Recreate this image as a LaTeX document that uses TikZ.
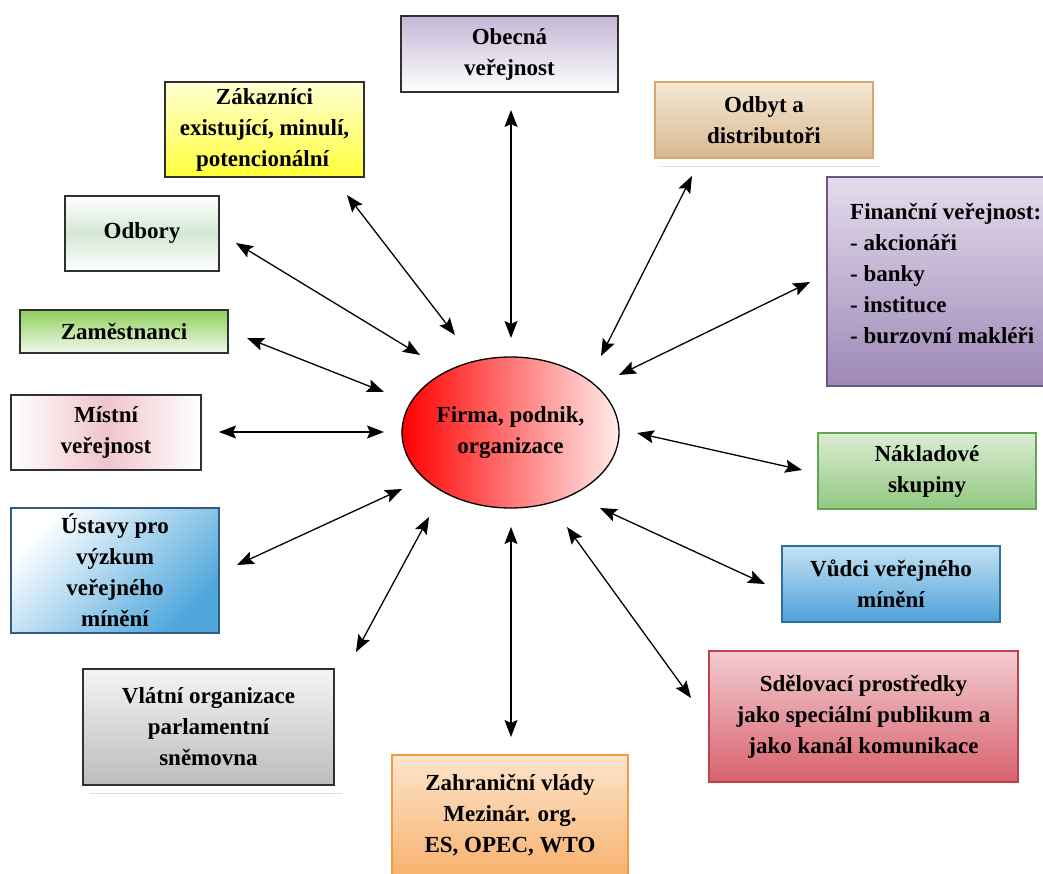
\documentclass[tikz,border=0pt]{standalone}
\usepackage{fontspec}
\setmainfont{Liberation Serif}
\usetikzlibrary{shapes.geometric,arrows.meta}

\definecolor{frame}{HTML}{303030}
\definecolor{firmR}{HTML}{FFECEC}
\definecolor{obecT}{HTML}{C4B6D6}
\definecolor{zakT}{HTML}{FFFFD2}
\definecolor{zakB}{HTML}{FFFF3C}
\definecolor{odbytD}{HTML}{D6A870}
\definecolor{odbytT}{HTML}{F6E8D6}
\definecolor{odbytB}{HTML}{D8B88E}
\definecolor{finD}{HTML}{685880}
\definecolor{finT}{HTML}{E4DCEC}
\definecolor{finB}{HTML}{9E88B8}
\definecolor{odboryM}{HTML}{D4E8D4}
\definecolor{zamT}{HTML}{8FCF5A}
\definecolor{zamB}{HTML}{F2F9EE}
\definecolor{mistM}{HTML}{F0C4CC}
\definecolor{ustavyD}{HTML}{325A82}
\definecolor{ustavyB}{HTML}{4EA6DC}
\definecolor{vlatT}{HTML}{F4F4F4}
\definecolor{vlatB}{HTML}{BCBCBC}
\definecolor{zahrD}{HTML}{F29A3C}
\definecolor{zahrT}{HTML}{FDE4CC}
\definecolor{zahrB}{HTML}{F7B26E}
\definecolor{sdelD}{HTML}{C0404C}
\definecolor{sdelT}{HTML}{F2CCD0}
\definecolor{sdelB}{HTML}{D8626E}
\definecolor{vudciD}{HTML}{2E6F9E}
\definecolor{vudciT}{HTML}{C4E2F4}
\definecolor{vudciB}{HTML}{4EA0D8}
\definecolor{naklD}{HTML}{62A552}
\definecolor{naklT}{HTML}{DCECD4}
\definecolor{naklB}{HTML}{92C880}
\definecolor{ruleC}{HTML}{DEDEDE}

\tikzset{
  box/.style={draw=#1, line width=1.2pt, inner sep=0pt, align=center,
    font=\bfseries\fontsize{23}{31}\selectfont},
  box/.default=frame,
  txt/.style={inner sep=0pt, align=left, font=\bfseries\fontsize{23}{31}\selectfont},
  link/.style={line width=1.3pt, >={Stealth[length=17pt,width=13pt,inset=3pt]}, <->},
  rule/.style={draw=ruleC, line width=0.8pt}
}

\begin{document}
\begin{tikzpicture}[x=1pt,y=-1pt]
\useasboundingbox (0,0) rectangle (1043,874);

% centre
\node[ellipse, draw=black, line width=1.3pt, inner sep=0pt,
      minimum width=217pt, minimum height=151pt,
      left color=red, right color=firmR, align=center,
      font=\bfseries\fontsize{23}{31}\selectfont]
  (firm) at (510.5,432.5) {Firma, podnik,\\organizace};

% publics around the firm
\node[box, minimum width=217pt, minimum height=76pt,
      top color=obecT, bottom color=white]
  (obec) at (509.5,54) {Obecná\\veřejnost};

\node[box, minimum width=199pt, minimum height=95pt,
      top color=zakT, bottom color=zakB]
  (zak) at (264.5,129.5) {Zákazníci\\existující, minulí,\\potencionální\hspace*{4pt}};

\node[box=odbytD, minimum width=218pt, minimum height=76pt,
      top color=odbytT, bottom color=odbytB]
  (odbyt) at (764,120) {Odbyt a\\distributoři};
\path[rule] (661,166) -- (880,166);

\node[box=finD, minimum width=217pt, minimum height=209pt,
      top color=finT, bottom color=finB]
  (fin) at (935.5,281.5) {};
\node[txt, anchor=north west] (fintxt) at (850,203)
  {Finanční veřejnost:\\- akcionáři\\- banky\\- instituce\\- burzovní makléři};

\node[box, minimum width=154pt, minimum height=75pt,
      top color=white, bottom color=white, middle color=odboryM]
  (odbory) at (142,233.5) {Odbory};

\node[box, minimum width=208pt, minimum height=43pt,
      top color=zamT, bottom color=zamB]
  (zam) at (124,331.5) {Zaměstnanci};

\node[box, minimum width=190pt, minimum height=75pt,
      left color=white, right color=white, middle color=mistM]
  (mist) at (106,432.5) {Místní\\veřejnost};

\node[box=ustavyD, minimum width=208pt, minimum height=125pt,
      top color=white, bottom color=ustavyB, shading angle=45]
  (ustavy) at (115,570.5) {Ústavy pro\\výzkum\\veřejného\\mínění};

\node[box, minimum width=251pt, minimum height=116pt,
      top color=vlatT, bottom color=vlatB]
  (vlat) at (208.5,727) {Vlátní organizace\\parlamentní\\sněmovna};
\path[rule] (90,793) -- (342,793);

\node[box=zahrD, minimum width=236pt, minimum height=121pt,
      top color=zahrT, bottom color=zahrB]
  (zahr) at (510,815.5) {Zahraniční vlády\\Mezinár. org.\\ES, OPEC, WTO};

\node[box=sdelD, minimum width=309pt, minimum height=131pt,
      top color=sdelT, bottom color=sdelB]
  (sdel) at (863.5,716.5) {Sdělovací prostředky\\jako speciální publikum a\\jako kanál komunikace};

\node[box=vudciD, minimum width=218pt, minimum height=76pt,
      top color=vudciT, bottom color=vudciB]
  (vudci) at (891,584) {Vůdci veřejného\\mínění};

\node[box=naklD, minimum width=218pt, minimum height=76pt,
      top color=naklT, bottom color=naklB]
  (nakl) at (927,471) {Nákladové\\skupiny};

% arrow tips
\coordinate (obec-a) at (511,110);  \coordinate (obec-b) at (511,338);
\coordinate (zak-a) at (347,195);   \coordinate (zak-b) at (455,335);
\coordinate (odbory-a) at (236,243);\coordinate (odbory-b) at (420,355);
\coordinate (zam-a) at (247,338);   \coordinate (zam-b) at (384,392);
\coordinate (mist-a) at (219,432);  \coordinate (mist-b) at (384,432);
\coordinate (ustavy-a) at (237,565);\coordinate (ustavy-b) at (402,489);
\coordinate (vlat-a) at (356,652);  \coordinate (vlat-b) at (429,517);
\coordinate (zahr-a) at (511,737);  \coordinate (zahr-b) at (511,527);
\coordinate (sdel-a) at (691,698);  \coordinate (sdel-b) at (567,527);
\coordinate (vudci-a) at (765,584); \coordinate (vudci-b) at (600,508);
\coordinate (nakl-a) at (802,470);  \coordinate (nakl-b) at (637,433);
\coordinate (fin-a) at (810,282);   \coordinate (fin-b) at (619,375);
\coordinate (odbyt-a) at (692,176); \coordinate (odbyt-b) at (601,356);

% connectors
\foreach \n in {obec,zak,odbory,zam,mist,ustavy,vlat,zahr,sdel,vudci,nakl,fin,odbyt}
  \draw[link] (\n-a) -- (\n-b);
\end{tikzpicture}
\end{document}
